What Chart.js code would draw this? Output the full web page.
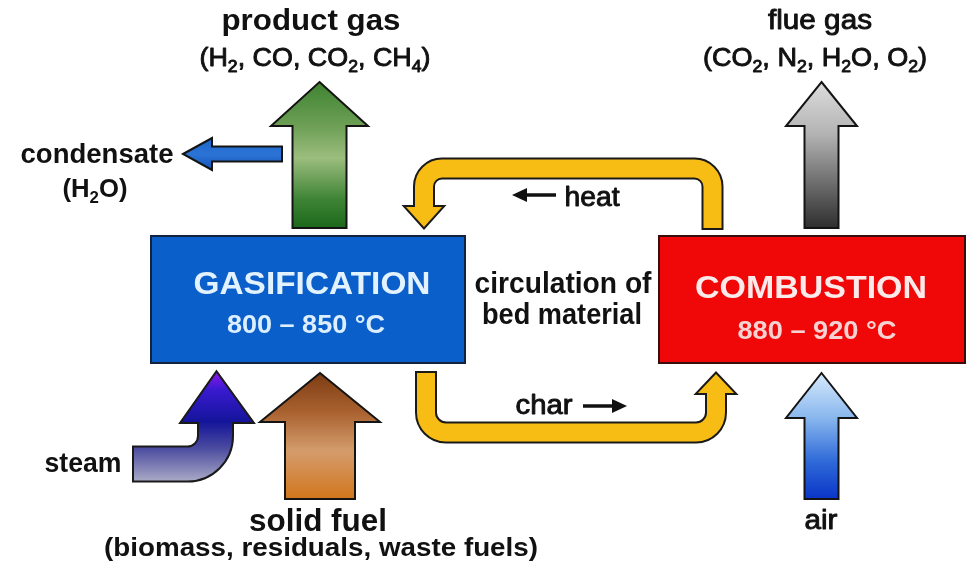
<!DOCTYPE html>
<html>
<head>
<meta charset="utf-8">
<script src="https://cdn.jsdelivr.net/npm/chart.js@4"></script>
<style>
  body { margin: 0; background: #fff; }
  #wrap { width: 967px; height: 570px; }
</style>
</head>
<body>
<div id="wrap"><canvas id="flowChart" width="967" height="570"></canvas></div>
<script>
// process units
const unitNames = ['GASIFICATION', 'COMBUSTION'];
const unitTemps = ['800 – 850 °C', '880 – 920 °C'];
// streams in and out ("_" marks a subscript digit)
const streamNames = ['product gas', 'condensate', 'flue gas', 'steam', 'solid fuel', 'air'];
const streamDetails = ['(H_2, CO, CO_2, CH_4)', '(H_2O)', '(CO_2, N_2, H_2O, O_2)', '', '(biomass, residuals, waste fuels)', ''];
// bed material loop
const loopLabels = ['heat', 'char'];
const loopNote = ['circulation of', 'bed material'];

const FONT = '"Liberation Sans", Arial, sans-serif';

// layout in scale units (x 0..967, y 0..570 downwards)
const boxes = [
  { x0: 151, y0: 236, x1: 465, y1: 363, fill: '#0b5fca', edge: '#13233f', ink: '#e2f2ff', ink2: '#dcefff',
    title: [312, 294, 32, 237], temp: [306, 333, 25, 158] },
  { x0: 659, y0: 236, x1: 965, y1: 363, fill: '#f00707', edge: '#3a0d0d', ink: '#fbeaea', ink2: '#f6d2d2',
    title: [811, 298, 32, 232], temp: [817, 339, 25, 159] }
];

// [cx, baseline, size, width, weight] weight: 2 bold, 1 medium, 0 regular
const nameSpots = [
  [311, 30, 29, 179, 2],
  [97, 163, 28, 153, 2],
  [820, 29, 27, 104, 1],
  [83, 472, 28, 77, 2],
  [318, 531, 31, 138, 2],
  [821, 529, 27, 33, 1]
];
const detailSpots = [
  [315, 66, 26, 231, 1],
  [95, 197, 26, 65, 2],
  [815, 66, 26, 224, 1],
  null,
  [321, 556, 26, 434, 2],
  null
];

function upArrow(cx, tipY, headY, headHalf, shaftHalf, tailY) {
  return [[cx, tipY], [cx + headHalf, headY], [cx + shaftHalf, headY], [cx + shaftHalf, tailY],
          [cx - shaftHalf, tailY], [cx - shaftHalf, headY], [cx - headHalf, headY]];
}
function leftArrow(cy, tipX, headX, headHalf, shaftHalf, tailX) {
  return [[tipX, cy], [headX, cy - headHalf], [headX, cy - shaftHalf], [tailX, cy - shaftHalf],
          [tailX, cy + shaftHalf], [headX, cy + shaftHalf], [headX, cy + headHalf]];
}

const straightArrows = [
  { pts: upArrow(319.5, 82, 126, 48.5, 27, 228), grad: [0, 82, 0, 228],
    stops: [[0, '#3f8332'], [0.3, '#6d9f55'], [0.52, '#9cbd7e'], [0.8, '#3f8436'], [1, '#1b681b']] },
  { pts: leftArrow(154, 183, 212, 16, 7.5, 282), grad: [0, 138, 0, 170],
    stops: [[0, '#1d63c6'], [0.5, '#2b74d6'], [1, '#1554b8']] },
  { pts: upArrow(821.5, 82, 126, 35.5, 17, 228), grad: [0, 82, 0, 228],
    stops: [[0, '#dcdcdc'], [0.35, '#b4b4b4'], [1, '#2e2e2e']] },
  { pts: upArrow(320, 373, 422, 60, 35, 499), grad: [0, 373, 0, 499],
    stops: [[0, '#7c3c14'], [0.3, '#a8602e'], [0.62, '#d49c6c'], [1, '#d2761c']] },
  { pts: upArrow(821.5, 373, 418, 35.5, 17, 499), grad: [0, 373, 0, 499],
    stops: [[0, '#d6e9fb'], [0.35, '#8ab8ee'], [0.7, '#2f6ad8'], [1, '#0a35c8']] }
];

// thick bent arrows: centre line, band thickness, corner radius, head triangle
const bentArrows = [
  { line: [[712.5, 228], [712.5, 168.5], [424, 168.5], [424, 210]], width: 18, radius: 18,
    head: [[406, 207], [442, 207], [424, 227]], color: '#f8bd14' },
  { line: [[426, 373], [426, 432.5], [716, 432.5], [716, 390]], width: 18, radius: 20,
    head: [[698, 393], [734, 393], [716, 374]], color: '#f8bd14' },
  { line: [[134, 464], [215.5, 464], [215.5, 419]], width: 33, radius: 28,
    head: [[182, 422], [252, 422], [216.5, 373]], grad: [0, 373, 0, 481],
    stops: [[0, '#8a18e8'], [0.15, '#3a1ad0'], [0.45, '#14149a'], [0.7, '#4c4ca0'], [1, '#a9a9c6']] }
];

// small black direction arrows next to loop labels: [x from, x to, y]
const pointers = [[556, 512, 195], [583, 627, 406]];
const loopSpots = [[592, 206, 27, 55, 1], [544, 414, 27, 57, 1]];
const noteSpots = [[563, 293, 29, 177, 2], [562, 324, 29, 160, 2]];

function drawRich(ctx, text, cx, base, size, width, weight, color) {
  const w = weight === 2 ? 'bold ' : '';
  const parts = [];
  for (let i = 0; i < text.length; i++) {
    if (text[i] === '_') { parts.push({ t: text[i + 1], sub: true }); i++; }
    else if (parts.length && !parts[parts.length - 1].sub) parts[parts.length - 1].t += text[i];
    else parts.push({ t: text[i], sub: false });
  }
  let total = 0;
  parts.forEach(p => {
    ctx.font = w + (p.sub ? Math.round(size * 0.64) : size) + 'px ' + FONT;
    p.w = ctx.measureText(p.t).width;
    total += p.w;
  });
  const sx = width / total;
  ctx.save();
  ctx.translate(cx - width / 2, base);
  ctx.scale(sx, 1);
  ctx.fillStyle = color;
  ctx.strokeStyle = color;
  ctx.lineWidth = 0.9;
  ctx.lineJoin = 'round';
  ctx.textAlign = 'left';
  ctx.textBaseline = 'alphabetic';
  let x = 0;
  parts.forEach(p => {
    ctx.font = w + (p.sub ? Math.round(size * 0.64) : size) + 'px ' + FONT;
    const dy = p.sub ? size * 0.22 : 0;
    ctx.fillText(p.t, x, dy);
    if (weight === 1) ctx.strokeText(p.t, x, dy);
    x += p.w;
  });
  ctx.restore();
}

const diagramPlugin = {
  id: 'diagram',
  afterDraw(chart) {
    const ctx = chart.ctx;
    const sx = chart.scales.x, sy = chart.scales.y;
    const X = v => sx.getPixelForValue(v);
    const Y = v => sy.getPixelForValue(v);

    function gradient(g, stops) {
      const lg = ctx.createLinearGradient(X(g[0]), Y(g[1]), X(g[2]), Y(g[3]));
      stops.forEach(s => lg.addColorStop(s[0], s[1]));
      return lg;
    }
    function polygon(pts) {
      ctx.beginPath();
      pts.forEach((p, i) => i ? ctx.lineTo(X(p[0]), Y(p[1])) : ctx.moveTo(X(p[0]), Y(p[1])));
      ctx.closePath();
    }
    function bandPath(pts, r, extend) {
      const a = pts[0], b = pts[1];
      const len = Math.hypot(b[0] - a[0], b[1] - a[1]);
      const sx0 = a[0] - (b[0] - a[0]) / len * extend, sy0 = a[1] - (b[1] - a[1]) / len * extend;
      ctx.beginPath();
      ctx.moveTo(X(sx0), Y(sy0));
      for (let i = 1; i < pts.length - 1; i++) {
        ctx.arcTo(X(pts[i][0]), Y(pts[i][1]), X(pts[i + 1][0]), Y(pts[i + 1][1]), r);
      }
      const last = pts[pts.length - 1];
      ctx.lineTo(X(last[0]), Y(last[1]));
    }

    ctx.save();
    ctx.lineJoin = 'miter';

    // straight block arrows
    straightArrows.forEach(a => {
      polygon(a.pts);
      ctx.fillStyle = gradient(a.grad, a.stops);
      ctx.fill();
      ctx.lineWidth = 2;
      ctx.strokeStyle = '#141414';
      ctx.stroke();
    });

    // bent arrows: dark outline layer first, colour layer on top
    bentArrows.forEach(a => {
      ctx.lineCap = 'butt';
      bandPath(a.line, a.radius, 2);
      ctx.lineWidth = a.width + 4;
      ctx.strokeStyle = '#1a1a1a';
      ctx.stroke();
      polygon(a.head);
      ctx.fillStyle = '#1a1a1a';
      ctx.fill();
      ctx.lineWidth = 4;
      ctx.stroke();

      const fill = a.grad ? gradient(a.grad, a.stops) : a.color;
      bandPath(a.line, a.radius, 0);
      ctx.lineWidth = a.width;
      ctx.strokeStyle = fill;
      ctx.stroke();
      polygon(a.head);
      ctx.fillStyle = fill;
      ctx.fill();
    });

    // process boxes
    boxes.forEach((b, i) => {
      ctx.fillStyle = b.fill;
      ctx.fillRect(X(b.x0), Y(b.y0), X(b.x1) - X(b.x0), Y(b.y1) - Y(b.y0));
      ctx.lineWidth = 2;
      ctx.strokeStyle = b.edge;
      ctx.strokeRect(X(b.x0), Y(b.y0), X(b.x1) - X(b.x0), Y(b.y1) - Y(b.y0));
      const t = b.title, s = b.temp;
      drawRich(ctx, unitNames[i], X(t[0]), Y(t[1]), t[2], t[3], 2, b.ink);
      drawRich(ctx, unitTemps[i], X(s[0]), Y(s[1]), s[2], s[3], 2, b.ink2);
    });

    // stream labels
    streamNames.forEach((n, i) => {
      const p = nameSpots[i];
      drawRich(ctx, n, X(p[0]), Y(p[1]), p[2], p[3], p[4], '#111');
      const d = detailSpots[i];
      if (d && streamDetails[i]) drawRich(ctx, streamDetails[i], X(d[0]), Y(d[1]), d[2], d[3], d[4], '#111');
    });

    loopNote.forEach((n, i) => {
      const p = noteSpots[i];
      drawRich(ctx, n, X(p[0]), Y(p[1]), p[2], p[3], p[4], '#111');
    });
    loopLabels.forEach((n, i) => {
      const p = loopSpots[i];
      drawRich(ctx, n, X(p[0]), Y(p[1]), p[2], p[3], p[4], '#111');
    });

    // little direction pointers
    pointers.forEach(p => {
      const dir = Math.sign(p[1] - p[0]);
      const tip = X(p[1]), y = Y(p[2]);
      ctx.beginPath();
      ctx.moveTo(X(p[0]), y);
      ctx.lineTo(tip - dir * 8, y);
      ctx.lineWidth = 3.5;
      ctx.strokeStyle = '#111';
      ctx.stroke();
      ctx.beginPath();
      ctx.moveTo(tip, y);
      ctx.lineTo(tip - dir * 15, y - 7);
      ctx.lineTo(tip - dir * 15, y + 7);
      ctx.closePath();
      ctx.fillStyle = '#111';
      ctx.fill();
    });

    ctx.restore();
  }
};

new Chart(document.getElementById('flowChart'), {
  type: 'scatter',
  data: { datasets: [{ data: [], pointRadius: 0 }] },
  options: {
    responsive: false,
    animation: false,
    events: [],
    layout: { padding: 0 },
    plugins: { legend: { display: false }, tooltip: { enabled: false } },
    scales: {
      x: { type: 'linear', min: 0, max: 967, display: false },
      y: { type: 'linear', min: 0, max: 570, reverse: true, display: false }
    }
  },
  plugins: [diagramPlugin]
});
</script>
</body>
</html>
